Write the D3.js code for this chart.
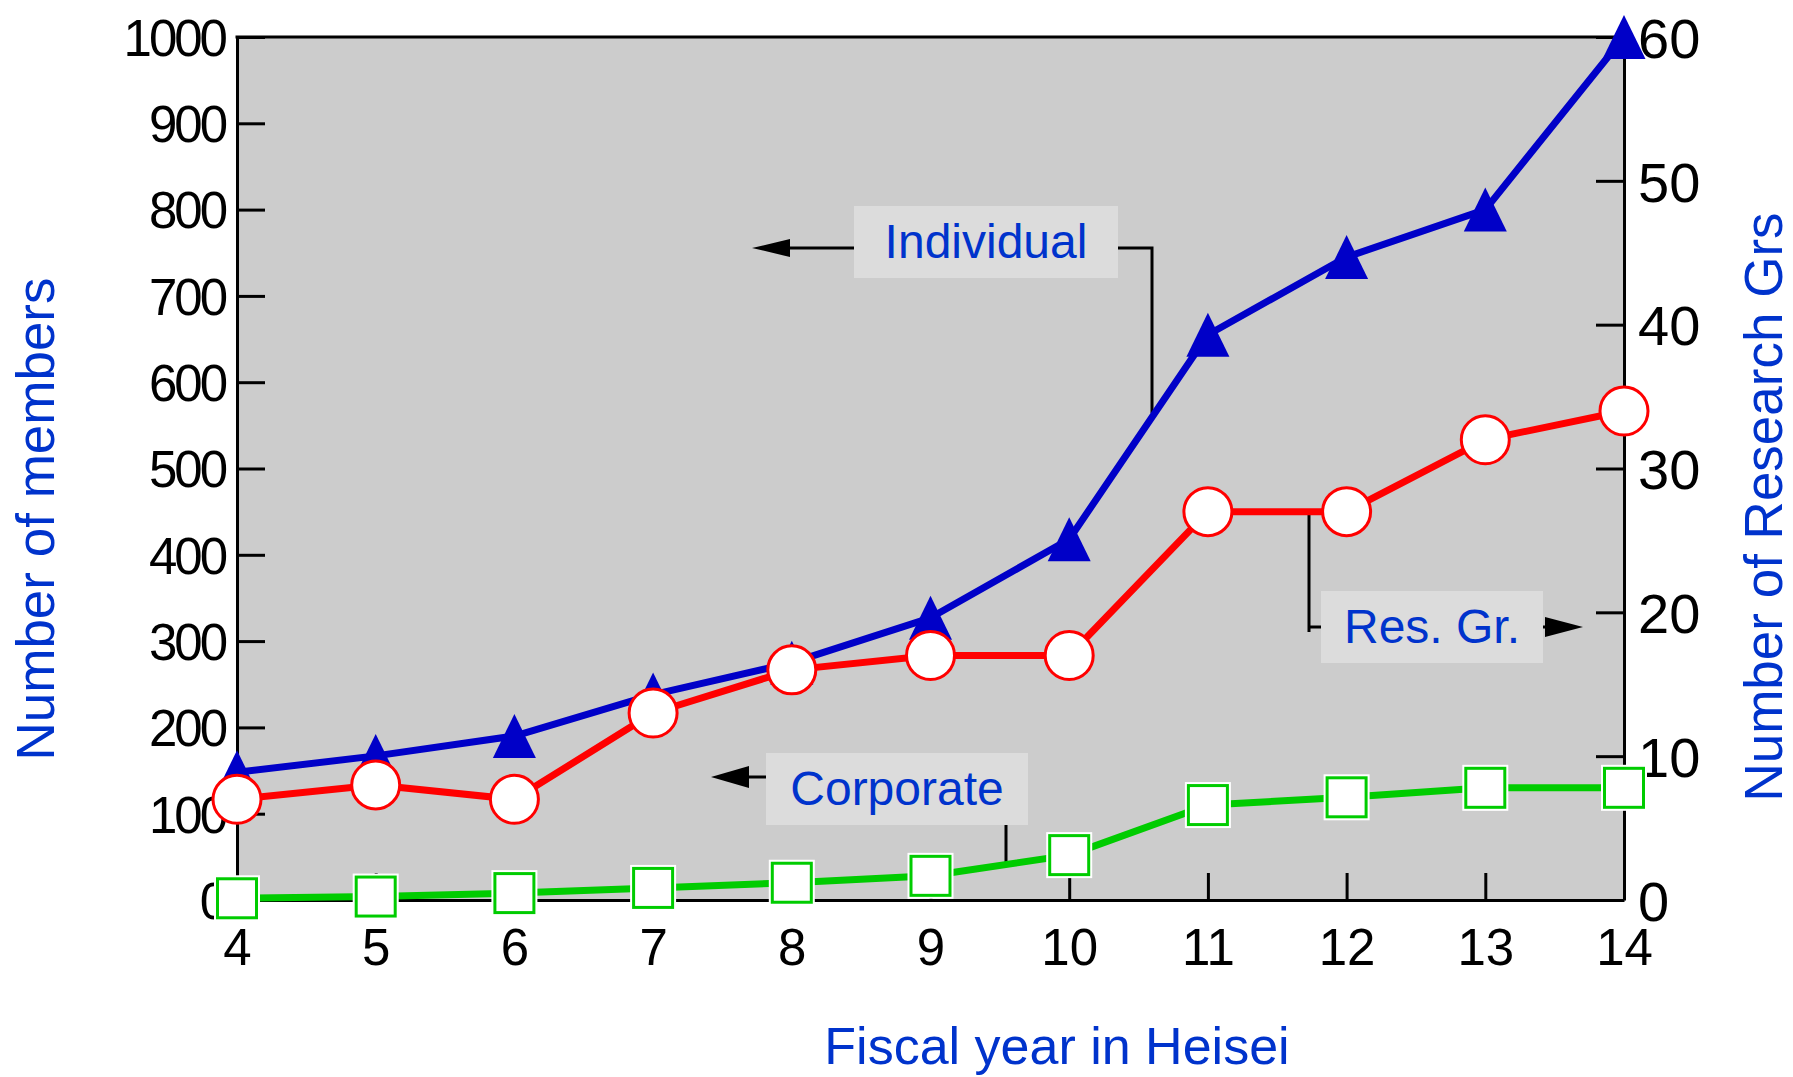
<!DOCTYPE html>
<html>
<head>
<meta charset="utf-8">
<script src="https://cdn.jsdelivr.net/npm/d3@7"></script>
<style>
  body { margin: 0; background: #fff; }
  svg text { font-family: "Liberation Sans", Arial, sans-serif; }
</style>
</head>
<body>
<svg id="chart" width="1793" height="1077"></svg>
<script>
// fiscal years (Heisei) and the three series
var years = [4, 5, 6, 7, 8, 9, 10, 11, 12, 13, 14];
var individual = [148, 167, 190, 238, 275, 327, 418, 655, 745, 800, 1000];
var resGroups = [7, 8, 7, 13, 16, 17, 17, 27, 27, 32, 34];
var corporate = [2, 4, 8, 14, 20, 28, 52, 110, 119, 130, 130];
var leftTicks = [0, 100, 200, 300, 400, 500, 600, 700, 800, 900, 1000];
var rightTicks = [0, 10, 20, 30, 40, 50, 60];

var blue = "#0033cc";
var plot = {left: 237, right: 1624, top: 37, bottom: 900};

var svg = d3.select("#chart");

var x = d3.scaleLinear().domain([4, 14]).range([plot.left, plot.right]);
var yL = d3.scaleLinear().domain([0, 1000]).range([plot.bottom, plot.top]);
var yR = d3.scaleLinear().domain([0, 60]).range([plot.bottom, plot.top]);

svg.append("rect")
  .attr("x", plot.left).attr("y", plot.top)
  .attr("width", plot.right - plot.left).attr("height", plot.bottom - plot.top)
  .attr("fill", "#cccccc");

// axes, ticks pointing inward
var gl = svg.append("g").attr("transform", "translate(" + plot.left + ",0)")
  .call(d3.axisLeft(yL).tickValues(leftTicks).tickFormat(d3.format("d"))
    .tickSize(-28).tickSizeOuter(0));
gl.selectAll("text").attr("x", -12).attr("dy", "0.36em")
  .style("font-size", "51px").style("letter-spacing", "-3px");

var gr = svg.append("g").attr("transform", "translate(" + plot.right + ",0)")
  .call(d3.axisRight(yR).tickValues(rightTicks).tickSize(-28).tickSizeOuter(0));
gr.selectAll("text").attr("x", 14).attr("dy", "0.36em").style("font-size", "56px");

var gb = svg.append("g").attr("transform", "translate(0," + plot.bottom + ")")
  .call(d3.axisBottom(x).tickValues(years).tickSize(-27).tickSizeOuter(0));
gb.selectAll("text").attr("y", 65).attr("dy", 0).style("font-size", "51px");

[gl, gr, gb].forEach(function(g) {
  g.selectAll("path, line").attr("stroke", "#000").attr("stroke-width", 3);
  g.selectAll("text").attr("fill", "#000");
});

svg.append("line")
  .attr("x1", plot.left - 1.5).attr("x2", plot.right + 1.5)
  .attr("y1", plot.top).attr("y2", plot.top)
  .attr("stroke", "#000").attr("stroke-width", 3);

// axis titles
svg.append("text")
  .attr("transform", "translate(54,519) rotate(-90)")
  .attr("text-anchor", "middle").attr("fill", blue).style("font-size", "53px")
  .text("Number of members");
svg.append("text")
  .attr("transform", "translate(1782,507) rotate(-90)")
  .attr("text-anchor", "middle").attr("fill", blue).style("font-size", "53px")
  .text("Number of Research Grs");
svg.append("text")
  .attr("x", 1057).attr("y", 1064)
  .attr("text-anchor", "middle").attr("fill", blue).style("font-size", "52px")
  .text("Fiscal year in Heisei");

// labels with arrows pointing at their axis
var notes = [
  {text: "Individual", box: [854, 206, 264, 72], base: 258,
   arrow: {y: 248, from: 854, base: 790, tip: 752, half: 9},
   lines: [[[1118, 248], [1152, 248], [1152, 413]]]},
  {text: "Res. Gr.", box: [1321, 591, 222, 72], base: 643,
   arrow: {y: 627, from: 1543, base: 1545, tip: 1583, half: 10},
   lines: [[[1309, 510], [1309, 632]], [[1309, 627], [1321, 627]]]},
  {text: "Corporate", box: [766, 753, 262, 72], base: 805,
   arrow: {y: 777, from: 766, base: 749, tip: 711, half: 11},
   lines: [[[1006, 825], [1006, 863]]]}
];

var ng = svg.append("g");
notes.forEach(function(n) {
  var a = n.arrow;
  n.lines.forEach(function(pts) {
    ng.append("path").attr("d", d3.line()(pts))
      .attr("fill", "none").attr("stroke", "#000").attr("stroke-width", 3);
  });
  ng.append("line").attr("x1", a.from).attr("x2", a.base)
    .attr("y1", a.y).attr("y2", a.y).attr("stroke", "#000").attr("stroke-width", 3);
  ng.append("path")
    .attr("d", "M" + a.tip + "," + a.y + "L" + a.base + "," + (a.y - a.half) +
      "L" + a.base + "," + (a.y + a.half) + "Z")
    .attr("fill", "#000");
  ng.append("rect")
    .attr("x", n.box[0]).attr("y", n.box[1])
    .attr("width", n.box[2]).attr("height", n.box[3])
    .attr("fill", "#dcdcdc");
  ng.append("text")
    .attr("x", n.box[0] + n.box[2] / 2).attr("y", n.base)
    .attr("text-anchor", "middle").attr("fill", blue).style("font-size", "48px")
    .text(n.text);
});

// series
function series(vals, yScale, color) {
  var pts = years.map(function(d, i) { return [x(d), yScale(vals[i])]; });
  svg.append("path").attr("d", d3.line()(pts))
    .attr("fill", "none").attr("stroke", color).attr("stroke-width", 7)
    .attr("stroke-linejoin", "round");
  return svg.append("g").selectAll("g").data(pts).enter().append("g")
    .attr("transform", function(p) { return "translate(" + p[0] + "," + p[1] + ")"; });
}

series(individual, yL, "#0000c8")
  .append("path").attr("d", "M0,-22L21.5,22L-21.5,22Z").attr("fill", "#0000c8");

series(resGroups, yR, "#ff0000")
  .append("circle").attr("r", 24)
  .attr("fill", "#fff").attr("stroke", "#ff0000").attr("stroke-width", 3);

var sq = series(corporate, yL, "#00cc00");
sq.append("rect").attr("x", -23).attr("y", -23).attr("width", 46).attr("height", 46)
  .attr("fill", "#fff");
sq.append("rect").attr("x", -19.5).attr("y", -19.5).attr("width", 39).attr("height", 39)
  .attr("fill", "#fff").attr("stroke", "#00cc00").attr("stroke-width", 3);
</script>
</body>
</html>
